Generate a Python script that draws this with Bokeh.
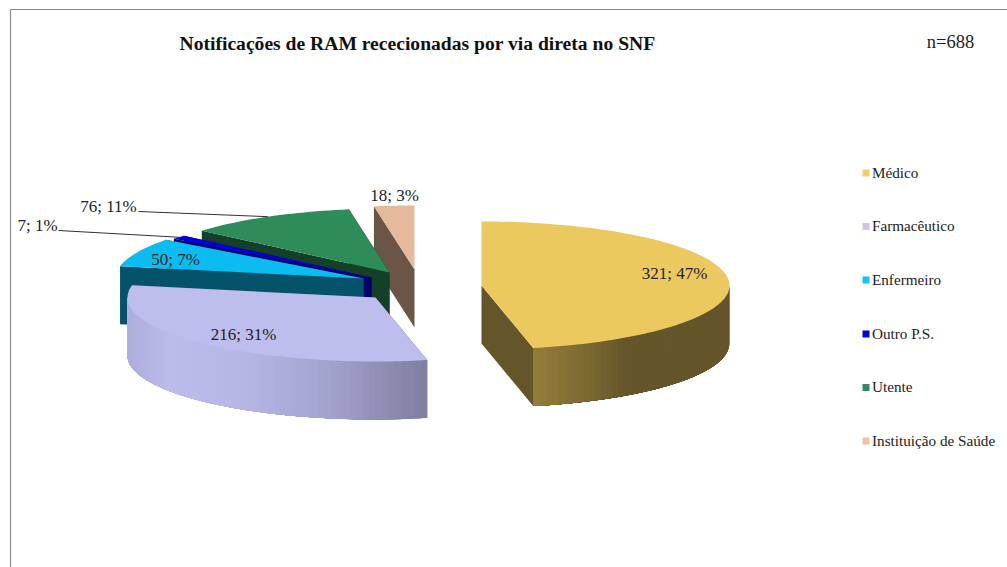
import math
from bokeh.plotting import figure
from bokeh.models import Range1d, ColumnDataSource
from bokeh.core.properties import value
from bokeh.embed import file_html
from bokeh.resources import INLINE

# --- data ---
categories = ["Médico", "Farmacêutico", "Enfermeiro", "Outro P.S.", "Utente", "Instituição de Saúde"]
counts = [321, 216, 50, 7, 76, 18]
percents = [47, 31, 7, 1, 11, 3]
title = "Notificações de RAM rececionadas por via direta no SNF"
note = "n=688"

# --- style / layout ---
FONT = "Liberation Serif"
top_colors = ["#ECC95F", "#BDBDEE", "#0ABCF0", "#0000DC", "#2E8B5A", "#E5BA9A"]
side_colors = ["#65552A", "#55556E", "#04536A", "#00006C", "#143F28", "#6A5546"]
legend_colors = ["#F5CE62", "#C8C8F5", "#12C4FA", "#0000E6", "#2E8B5F", "#F2C3A0"]
pie_centre = (395, 280)
explode = [(86, 5), (-20, 17), (-32, -2), (-24, -3), (-6, -8), (19, -11)]
RX, RY, DEPTH = 248, 64, 58
outer_gradient = {
    0: [(533, "#937D3B"), (580, "#7F6C33"), (625, "#65552A"), (730, "#65552A")],
    1: [(128, "#AEAEDC"), (170, "#BBBBEC"), (240, "#B7B7E6"), (330, "#A2A2CE"), (427, "#7E7E9E")],
}

def hex2rgb(h):
    return tuple(int(h[i:i + 2], 16) for i in (1, 3, 5))

def ramp(stops, x):
    if x <= stops[0][0]:
        return stops[0][1]
    for (x0, c0), (x1, c1) in zip(stops, stops[1:]):
        if x <= x1:
            t = (x - x0) / (x1 - x0)
            a, b = hex2rgb(c0), hex2rgb(c1)
            return "#%02X%02X%02X" % tuple(round(u + (v - u) * t) for u, v in zip(a, b))
    return stops[-1][1]

p = figure(width=1007, height=567, output_backend="svg", toolbar_location=None,
           x_range=Range1d(0, 1007), y_range=Range1d(567, 0), min_border=0,
           x_axis_location=None, y_axis_location=None)
p.grid.visible = False
p.outline_line_color = None
p.background_fill_color = "white"

# chart frame
p.line([10, 10, 1007], [567, 9, 9], line_color="#8A8A8A", line_width=1.2)

total = sum(counts)
starts, cum = [], 0
for c in counts:
    starts.append(cum / total * 360)
    cum += c
ends = starts[1:] + [360]

def pt(i, deg, dz=0):
    r = math.radians(deg)
    cx = pie_centre[0] + explode[i][0]
    cy = pie_centre[1] + explode[i][1]
    return cx + RX * math.sin(r), cy - RY * math.cos(r) + dz

xs, ys, fills = [], [], []
def add(poly, color):
    xs.append([q[0] for q in poly])
    ys.append([q[1] for q in poly])
    fills.append(color)

for i in [5, 4, 3, 2, 1, 0]:
    cx = pie_centre[0] + explode[i][0]
    cy = pie_centre[1] + explode[i][1]
    # radial faces, far one first
    faces = sorted([starts[i], ends[i]], key=lambda d: pt(i, d)[1])
    for d in faces:
        e = pt(i, d)
        add([(cx, cy), e, (e[0], e[1] + DEPTH), (cx, cy + DEPTH)], side_colors[i])
    # outer wall, front half only, as overlapping shaded strips painted towards a1
    a0, a1 = max(starts[i], 90), min(ends[i], 270)
    if a1 > a0:
        n = max(1, int((a1 - a0) / 1.5))
        step = (a1 - a0) / n
        for k in range(n):
            u = a0 + step * k
            # each strip runs on to the far end so no seam can show between neighbours
            arc = [pt(i, u + (a1 - u) * q / 12) for q in range(13)]
            pu, pv = pt(i, u), pt(i, u + step)
            col = ramp(outer_gradient[i], (pu[0] + pv[0]) / 2) if i in outer_gradient else side_colors[i]
            add(arc + [(q[0], q[1] + DEPTH) for q in reversed(arc)], col)
    # top face
    n = max(2, int((ends[i] - starts[i]) / 1.5))
    arc = [pt(i, starts[i] + (ends[i] - starts[i]) * k / n) for k in range(n + 1)]
    add([(cx, cy)] + arc, top_colors[i])

p.patches("xs", "ys", source=ColumnDataSource(dict(xs=xs, ys=ys, c=fills)),
          fill_color="c", line_color=None)

# leader lines, from label to the middle of the slice's rim
for i, (lx, ly) in {3: (58, 230), 4: (138, 211)}.items():
    e = pt(i, (starts[i] + ends[i]) / 2)
    p.line([lx, e[0]], [ly, e[1]], line_color="#333333", line_width=1)

# data labels
labels = [f"{c}; {q}%" for c, q in zip(counts, percents)]
label_x = [674, 243, 175, 37, 108, 394]
label_y = [273, 334, 259, 225, 206, 195]
p.text(label_x, label_y, text=labels, text_font=value(FONT), text_font_size="17px",
       text_align="center", text_baseline="middle", text_color="#222222")

# title and note
p.text([417], [43], text=[title], text_font=value(FONT), text_font_style="bold",
       text_font_size="19.6px", text_align="center", text_baseline="middle", text_color="#111111")
p.text([950], [41], text=[note], text_font=value(FONT), text_font_size="18.5px",
       text_align="center", text_baseline="middle", text_color="#222222")

# legend
leg_y = [172.5, 226, 279.5, 333.5, 387, 440.5]
p.rect([865.5] * 6, leg_y, width=7, height=7, fill_color=legend_colors, line_color=None)
p.text([871.5] * 6, [y - 1 for y in leg_y], text=categories, text_font=value(FONT), text_font_size="15.2px",
       text_align="left", text_baseline="middle", text_color="#222222")

open("out.html", "w").write(file_html(p, INLINE))
